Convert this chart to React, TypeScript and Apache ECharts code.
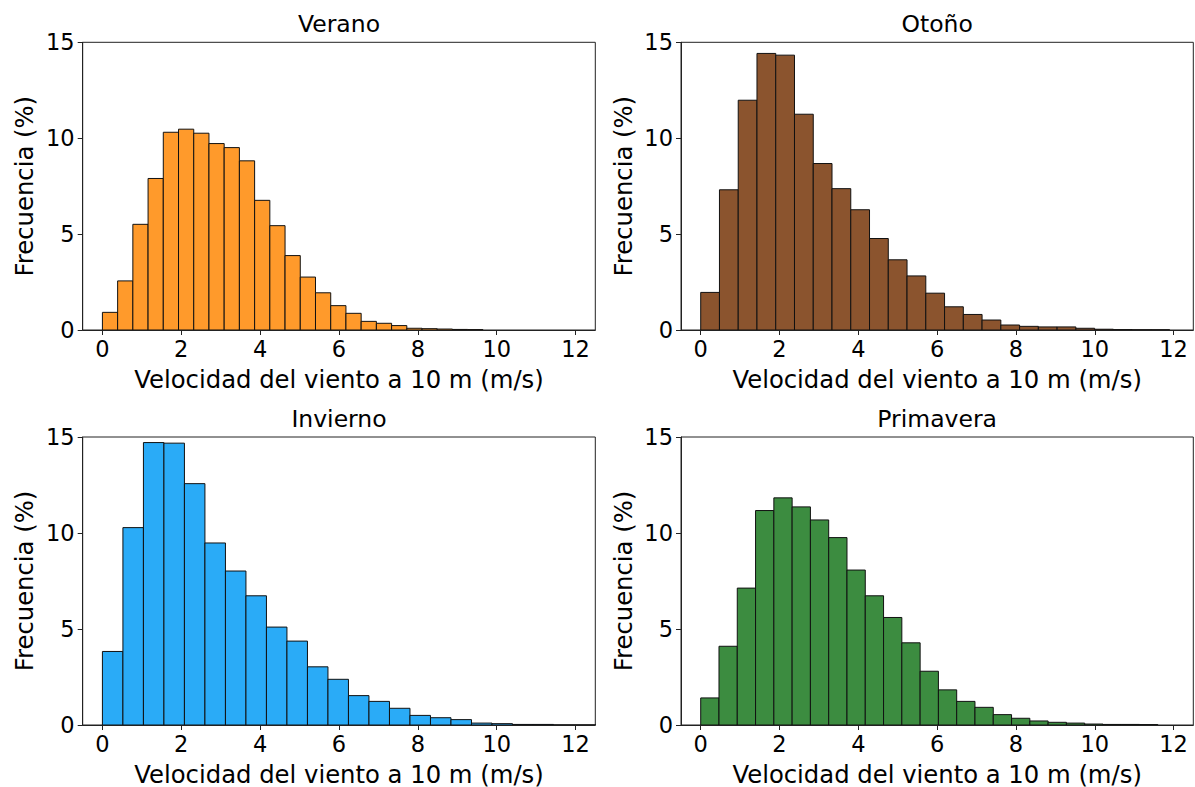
import React, { useEffect, useRef } from "react";
import * as echarts from "echarts";

const seasons = ["Verano", "Otoño", "Invierno", "Primavera"];
const colors = ["#FF9A2B", "#8B542E", "#2AABF7", "#3C8C40"];
const binCount = 25;
const binMax = [9.65, 11.9, 13.0, 11.6];

const veranoValues = [0.92, 2.56, 5.51, 7.9, 10.31, 10.47, 10.26, 9.72, 9.51, 8.82, 6.76, 5.44, 3.88, 2.76, 1.94, 1.27, 0.87, 0.45, 0.35, 0.23, 0.09, 0.07, 0.05, 0.03, 0.02];
const otonoValues = [1.96, 7.31, 11.98, 14.42, 14.33, 11.25, 8.68, 7.37, 6.27, 4.77, 3.66, 2.82, 1.92, 1.21, 0.81, 0.52, 0.26, 0.19, 0.16, 0.16, 0.09, 0.04, 0.02, 0.01, 0.01];
const inviernoValues = [3.83, 10.28, 14.71, 14.68, 12.57, 9.48, 8.02, 6.73, 5.1, 4.37, 3.03, 2.38, 1.53, 1.23, 0.87, 0.5, 0.38, 0.28, 0.1, 0.07, 0.03, 0.03, 0, 0, 0];
const primaveraValues = [1.41, 4.1, 7.13, 11.17, 11.83, 11.36, 10.68, 9.76, 8.07, 6.73, 5.6, 4.28, 2.8, 1.83, 1.23, 0.92, 0.54, 0.35, 0.21, 0.14, 0.1, 0.05, 0.03, 0.03, 0.02];
const allValues = [veranoValues, otonoValues, inviernoValues, primaveraValues];

const xTicks = [0, 2, 4, 6, 8, 10, 12];
const xLabel = "Velocidad del viento a 10 m (m/s)";
const yLabel = "Frecuencia (%)";

const FONT = "DejaVu Sans";

const grids = [
  { left: 82.7, top: 42.3, width: 512.6, height: 287.7 },
  { left: 681, top: 42.3, width: 512.3, height: 287.7 },
  { left: 82.7, top: 437, width: 512.6, height: 289 },
  { left: 681, top: 437, width: 512.3, height: 289 },
];

export default function App() {
  const ref = useRef<HTMLDivElement>(null);
  useEffect(() => {
    if (!ref.current) return;
    const chart = echarts.init(ref.current, undefined, { renderer: "svg" });
    const option: any = {
      animation: false,
      backgroundColor: "#fff",
      grid: grids.map((g) => ({
        ...g,
        show: true,
        borderColor: "#222",
        borderWidth: 1,
        containLabel: false,
      })),
      xAxis: grids.map((_, i) => ({
        type: "value",
        gridIndex: i,
        min: -0.5,
        max: 12.5,
        splitLine: { show: false },
        axisLine: { show: true, onZero: false, lineStyle: { color: "#222", width: 1 } },
        axisTick: { show: true, length: 5, lineStyle: { color: "#222" }, customValues: xTicks },
        axisLabel: { fontSize: 22.5, color: "#000", fontFamily: FONT, margin: 7, customValues: xTicks },
        name: xLabel,
        nameLocation: "middle",
        nameGap: 37,
        nameTextStyle: { fontSize: 24.3, color: "#000", fontFamily: FONT },
      })),
      yAxis: grids.map((_, i) => ({
        type: "value",
        gridIndex: i,
        min: 0,
        max: 15,
        interval: 5,
        splitLine: { show: false },
        axisLine: { show: true, onZero: false, lineStyle: { color: "#222", width: 1 } },
        axisTick: { show: true, length: 5, lineStyle: { color: "#222" } },
        axisLabel: { fontSize: 22.5, color: "#000", fontFamily: FONT, margin: 8 },
        name: yLabel,
        nameLocation: "middle",
        nameGap: 46,
        nameTextStyle: { fontSize: 24.3, color: "#000", fontFamily: FONT },
      })),
      graphic: grids.map((g, i) => ({
        type: "text",
        x: g.left + g.width / 2,
        y: g.top - 6,
        style: {
          text: seasons[i],
          fontSize: 23.5,
          fontFamily: FONT,
          fill: "#000",
          textAlign: "center",
          textVerticalAlign: "bottom",
        },
      })),
      series: allValues.map((vals, i) => {
        const w = binMax[i] / binCount;
        const data = vals.map((v, k) => [k * w, (k + 1) * w, v]);
        return {
          type: "custom",
          xAxisIndex: i,
          yAxisIndex: i,
          clip: true,
          encode: { x: [0, 1], y: 2 },
          data,
          renderItem: (params: any, api: any) => {
            const p0 = api.coord([api.value(0), api.value(2)]);
            const p1 = api.coord([api.value(1), 0]);
            return {
              type: "rect",
              shape: { x: p0[0], y: p0[1], width: p1[0] - p0[0], height: p1[1] - p0[1] },
              style: { fill: colors[i], stroke: "#111", lineWidth: 1 },
            };
          },
        };
      }),
    };
    chart.setOption(option);
    return () => chart.dispose();
  }, []);
  return (
    <div
      ref={ref}
      style={{ position: "fixed", left: 0, top: 0, width: 1195, height: 787, background: "#fff" }}
    />
  );
}
